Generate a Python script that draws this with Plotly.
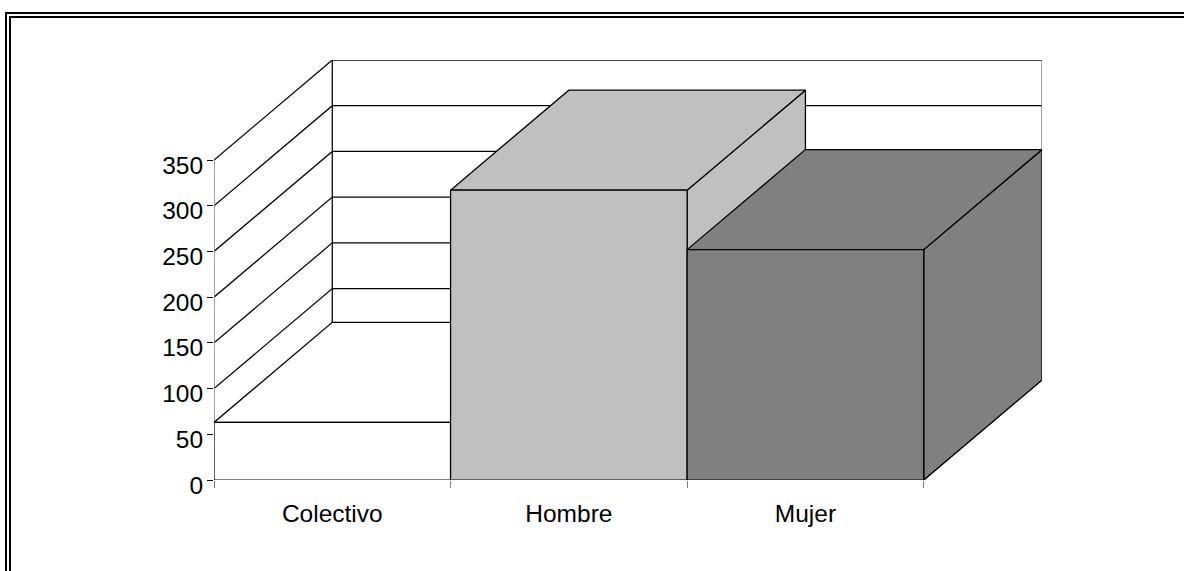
import plotly.graph_objects as go

categories = ["Colectivo", "Hombre", "Mujer"]
values = [63, 317, 252]
fills = ["#ffffff", "#c0c0c0", "#808080"]
y_ticks = [0, 50, 100, 150, 200, 250, 300, 350]

W, H = 1184, 571
L, R, T, B = 214, 1042, 60, 480
DEPTH_X = 0.5      # category units
DEPTH_Y = 109.4    # value units
X_MAX = len(categories) + DEPTH_X
Y_MAX = 350 + DEPTH_Y
EDGE = "#000000"
AXIS = "#808080"

fig = go.Figure()


def poly(xs, ys, fill=None, color=EDGE, width=1.25):
    fig.add_trace(go.Scatter(
        x=xs, y=ys, mode="lines",
        fill="toself" if fill else None, fillcolor=fill,
        line=dict(color=color, width=width),
        hoverinfo="skip", showlegend=False, cliponaxis=False,
    ))


# back wall, left wall and floor grid
for v in y_ticks:
    poly([0, DEPTH_X, X_MAX], [v, v + DEPTH_Y, v + DEPTH_Y])
poly([DEPTH_X, DEPTH_X], [DEPTH_Y, Y_MAX])
poly([X_MAX, X_MAX], [DEPTH_Y, Y_MAX], color=AXIS, width=1.5)
poly([0, 0], [0, 350], color=AXIS, width=1.5)
poly([0, len(categories)], [0, 0])
poly([len(categories), X_MAX], [0, DEPTH_Y])

# bars: side, top, front
for i, (v, c) in enumerate(zip(values, fills)):
    x0, x1 = i, i + 1
    poly([x1, x1 + DEPTH_X, x1 + DEPTH_X, x1, x1],
         [0, DEPTH_Y, v + DEPTH_Y, v, 0], c)
    poly([x0, x1, x1 + DEPTH_X, x0 + DEPTH_X, x0],
         [v, v, v + DEPTH_Y, v + DEPTH_Y, v], c)
    poly([x0, x1, x1, x0, x0], [0, 0, v, v, 0], c)

frame = [
    (5, 12, W, 14),
    (9, 16, W, 18),
    (5, 12, 7, H),
    (9, 16, 11, H),
]
shapes = [
    dict(type="rect", xref="paper", yref="paper", layer="above",
         x0=(a - L) / (R - L), x1=(c - L) / (R - L),
         y0=(B - b) / (B - T), y1=(B - d) / (B - T),
         fillcolor="#000000", line=dict(width=0))
    for a, b, c, d in frame
]

fig.update_layout(
    width=W, height=H,
    margin=dict(l=L, r=W - R, t=T, b=H - B, pad=0),
    paper_bgcolor="#ffffff", plot_bgcolor="#ffffff",
    font=dict(family="Liberation Sans, Arial, sans-serif", size=24.5, color="#000000"),
    showlegend=False,
    shapes=shapes,
    xaxis=dict(
        range=[0, X_MAX], showgrid=False, zeroline=False, showline=False,
        tickmode="array",
        tickvals=[i + 0.5 for i in range(len(categories))],
        ticktext=categories, ticks="", ticklabelstandoff=16,
        minor=dict(tickmode="array", tickvals=list(range(len(categories) + 1)),
                   ticks="outside", ticklen=7, tickcolor=AXIS, tickwidth=1, showgrid=False),
    ),
    yaxis=dict(
        range=[0, Y_MAX], showgrid=False, zeroline=False, showline=False,
        tickmode="array", tickvals=y_ticks, ticks="outside", ticklen=6,
        tickcolor=EDGE, tickwidth=1, ticklabelshift=5, ticklabelstandoff=-1,
    ),
)

fig.write_html("out.html", config=dict(displayModeBar=False),
               post_script="document.body.style.margin='0';document.body.style.overflow='hidden';")
